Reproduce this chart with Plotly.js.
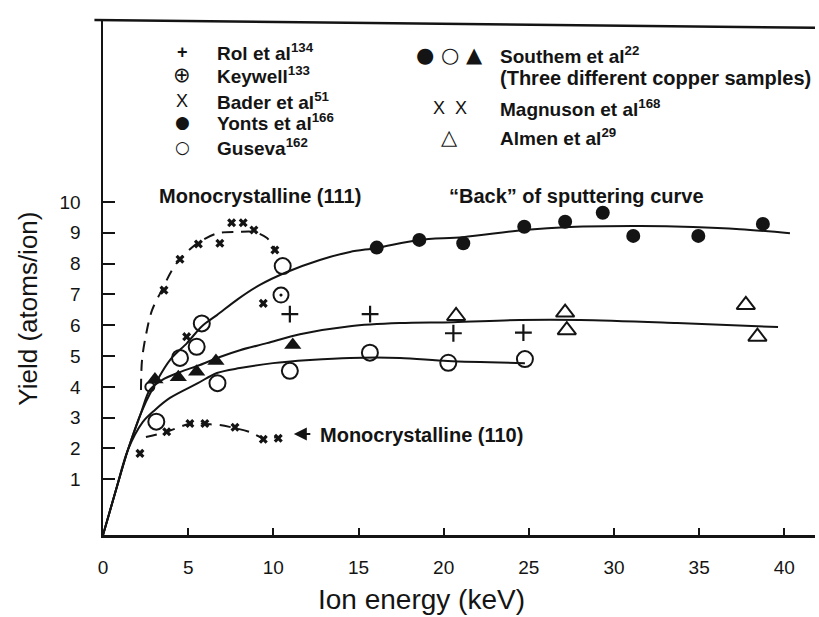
<!DOCTYPE html>
<html>
<head>
<meta charset="utf-8">
<script src="https://cdn.plot.ly/plotly-3.0.1.min.js"></script>
<style>html,body{margin:0;padding:0;background:#fff;}#chart{width:819px;height:617px;}</style>
</head>
<body>
<div id="chart"></div>
<script>
// ---- data (x: ion energy keV, y: yield atoms/ion) ----
const rolX = [10.97, 15.68, 20.57, 24.68];
const rolY = [6.36, 6.36, 5.74, 5.76];
const keywellX = [10.45];
const keywellY = [6.98];
const baderX = [4.91, 9.41];
const baderY = [5.63, 6.71];
const yontsX = [16.07, 18.57, 21.15, 24.73, 27.13, 29.34, 31.13, 34.95, 38.74];
const yontsY = [8.52, 8.77, 8.66, 9.20, 9.36, 9.65, 8.90, 8.90, 9.29];
const gusevaX = [3.13, 4.52, 5.50, 5.80, 6.72, 10.55, 10.97, 15.67, 20.27, 24.77];
const gusevaY = [2.87, 4.94, 5.30, 6.06, 4.12, 7.92, 4.52, 5.11, 4.78, 4.90];
const southernTriX = [3.05, 4.42, 5.50, 6.63, 11.14];
const southernTriY = [4.24, 4.31, 4.49, 4.84, 5.36];
const southernCircX = [2.75];
const southernCircY = [4.00];
const magnuson111X = [3.58, 4.52, 5.60, 6.86, 7.55, 8.23, 8.86, 10.09];
const magnuson111Y = [7.14, 8.14, 8.64, 8.66, 9.33, 9.33, 9.09, 8.44];
const magnuson110X = [2.17, 3.74, 5.10, 5.98, 7.75, 9.41, 10.29];
const magnuson110Y = [1.84, 2.54, 2.81, 2.81, 2.69, 2.30, 2.33];
const almenX = [20.73, 27.13, 27.23, 37.74, 38.42];
const almenY = [6.30, 6.41, 5.84, 6.66, 5.63];

// hand-drawn curves, points
const curveAX = [0, 0.76, 1.46, 2.23, 2.87, 3.93, 4.93, 5.81, 6.69, 7.92, 9.21, 10.80, 12.73, 14.50, 16.08, 18.55, 21.13, 24.71, 27.41, 31.52, 34.63, 37.39, 40.33];
const curveAY = [-0.81, 0.65, 1.95, 3.15, 3.90, 4.87, 5.42, 5.97, 6.33, 6.85, 7.31, 7.73, 8.12, 8.38, 8.51, 8.77, 8.86, 9.09, 9.19, 9.22, 9.19, 9.12, 8.99];
const curveBX = [0, 0.76, 1.46, 2.23, 2.75, 3.46, 4.52, 5.69, 6.86, 8.04, 9.62, 11.56, 14.50, 17.43, 20.55, 24.48, 28.01, 33.70, 39.63];
const curveBY = [-0.81, 0.65, 1.95, 3.15, 3.90, 4.22, 4.48, 4.71, 4.97, 5.19, 5.42, 5.71, 5.97, 6.07, 6.10, 6.17, 6.17, 6.07, 5.94];
const curveCX = [0, 0.76, 1.46, 2.34, 3.05, 3.93, 5.57, 6.69, 8.04, 9.98, 12.15, 14.50, 17.43, 20.25, 24.77];
const curveCY = [-0.81, 0.65, 1.95, 2.86, 3.25, 3.64, 4.12, 4.45, 4.61, 4.77, 4.87, 4.94, 4.94, 4.84, 4.77];
const dash111X = [2.23, 2.29, 2.52, 2.88, 3.52, 3.99, 4.52, 5.57, 6.75, 7.92, 8.86, 9.63, 10.22];
const dash111Y = [3.90, 4.87, 5.68, 6.49, 7.21, 7.73, 8.15, 8.67, 8.99, 9.03, 9.03, 8.83, 8.38];
const dash110X = [2.52, 3.69, 5.22, 6.04, 6.86, 7.75, 8.63, 9.39, 10.27];
const dash110Y = [2.37, 2.53, 2.82, 2.79, 2.76, 2.66, 2.53, 2.34, 2.37];

const xTicks = [0, 5, 10, 15, 20, 25, 30, 35, 40];
const yTicks = [1, 2, 3, 4, 5, 6, 7, 8, 9, 10];

const INK = '#141414';
const FONT = 'Liberation Sans, Arial, sans-serif';

function curve(x, y, dash) {
  return {x: x, y: y, mode: 'lines', type: 'scatter', hoverinfo: 'skip', showlegend: false,
    line: {color: INK, width: 2, shape: 'spline', smoothing: 0.9, dash: dash || 'solid'}};
}
function pts(x, y, symbol, size, lw) {
  return {x: x, y: y, mode: 'markers', type: 'scatter', showlegend: false,
    marker: {symbol: symbol, size: size, color: INK, line: {color: INK, width: lw}}};
}

const traces = [
  curve(curveAX, curveAY), curve(curveBX, curveBY), curve(curveCX, curveCY),
  curve(dash111X, dash111Y, '11px,8px'), curve(dash110X, dash110Y, '11px,8px'),
  pts(rolX, rolY, 'cross-thin-open', 12, 2.2),
  pts(keywellX, keywellY, 'circle-open-dot', 15, 2),
  pts(baderX, baderY, 'x', 8, 0),
  pts(yontsX, yontsY, 'circle', 14, 0),
  pts(gusevaX, gusevaY, 'circle-open', 16, 2),
  pts(southernTriX, southernTriY, 'triangle-up', 15, 0),
  pts(southernCircX, southernCircY, 'circle-open', 9, 2),
  pts(magnuson111X, magnuson111Y, 'x', 8, 0),
  pts(magnuson110X, magnuson110Y, 'x', 8, 0),
  pts(almenX, almenY, 'triangle-up-open', 16, 2)
];

const symFont = {family: 'DejaVu Sans, sans-serif', size: 21, color: INK};
const xFont = {family: FONT, size: 18, color: INK};
const txtFont = {family: FONT, size: 19, color: INK, weight: 'bold'};
function lab(x, y, text, font, anchor) {
  return {xref: 'paper', yref: 'paper', x: x, y: y, text: text, showarrow: false,
    xanchor: anchor || 'left', yanchor: 'middle', font: font};
}
const legendRows = [
  [0.938, '+', 'Rol et al<sup>134</sup>', {family: FONT, size: 18, color: INK, weight: 'bold'}],
  [0.893, '⊕', 'Keywell<sup>133</sup>', symFont],
  [0.843, 'X', 'Bader et al<sup>51</sup>', xFont],
  [0.802, '●', 'Yonts et al<sup>166</sup>', {family: 'DejaVu Sans, sans-serif', size: 17, color: INK}],
  [0.753, '○', 'Guseva<sup>162</sup>', {family: 'DejaVu Sans, sans-serif', size: 17, color: INK}]
];
const legendRows2 = [
  [0.932, '● ○ ▲', 'Southem et al<sup>22</sup>', symFont],
  [0.887, '', '(Three different copper samples)', null],
  [0.829, 'X  X', 'Magnuson et al<sup>168</sup>', xFont],
  [0.773, '△', 'Almen et al<sup>29</sup>', symFont]
];
const annotations = [];
legendRows.forEach(r => {
  annotations.push(lab(0.111, r[0], r[1], r[3], 'center'));
  annotations.push(lab(0.157, r[0], r[2], txtFont));
});
legendRows2.forEach(r => {
  if (r[1]) annotations.push(lab(0.487, r[0], r[1], r[3], 'center'));
  annotations.push(lab(0.555, r[0], r[2], r[1] ? txtFont : {family: FONT, size: 20, color: INK, weight: 'bold'}));
});
const noteFont = {family: FONT, size: 20, color: INK, weight: 'bold'};
annotations.push(lab(0.076, 0.658, 'Monocrystalline (111)', noteFont));
annotations.push(lab(0.483, 0.658, '“Back” of sputtering curve', noteFont));
annotations.push(lab(0.302, 0.194, 'Monocrystalline (110)', noteFont));
annotations.push({xref: 'paper', yref: 'paper', x: 0.268, y: 0.196, ax: 18, ay: 0, text: '',
  showarrow: true, arrowhead: 2, arrowsize: 1.3, arrowwidth: 2, arrowcolor: INK});
// axis titles, placed where the reference has them
annotations.push({xref: 'paper', yref: 'paper', x: 0.448, y: -0.126, text: 'Ion energy (keV)',
  showarrow: false, xanchor: 'center', yanchor: 'middle', font: {family: FONT, size: 28, color: INK}});
annotations.push({xref: 'paper', yref: 'paper', x: -0.105, y: 0.44, text: 'Yield (atoms/ion)',
  showarrow: false, textangle: -90, xanchor: 'center', yanchor: 'middle', font: {family: FONT, size: 26, color: INK}});

const layout = {
  width: 819, height: 617,
  margin: {l: 103, r: 4, t: 20, b: 82},
  paper_bgcolor: '#fff', plot_bgcolor: '#fff',
  font: {family: FONT, color: INK},
  showlegend: false,
  xaxis: {
    range: [0, 41.8], tickvals: xTicks, ticktext: xTicks.map(String),
    ticks: 'inside', ticklen: 7, tickwidth: 2, tickcolor: INK,
    showline: true, linewidth: 2.5, linecolor: INK, showgrid: false, zeroline: false,
    tickfont: {family: FONT, size: 19, color: INK}, ticklabelstandoff: 14
  },
  yaxis: {
    range: [-0.81, 15.91], tickvals: yTicks, ticktext: yTicks.map(String),
    ticks: 'inside', ticklen: 12, tickwidth: 2, tickcolor: INK,
    showline: true, linewidth: 2.5, linecolor: INK, showgrid: false, zeroline: false,
    tickfont: {family: FONT, size: 19, color: INK}, ticklabelstandoff: 16
  },
  shapes: [{type: 'line', xref: 'paper', yref: 'paper', x0: -0.012, y0: 1.0, x1: 1.0, y1: 0.985,
    line: {color: INK, width: 2.5}}],
  annotations: annotations
};

Plotly.newPlot('chart', traces, layout, {staticPlot: true, displayModeBar: false});
</script>
</body>
</html>
